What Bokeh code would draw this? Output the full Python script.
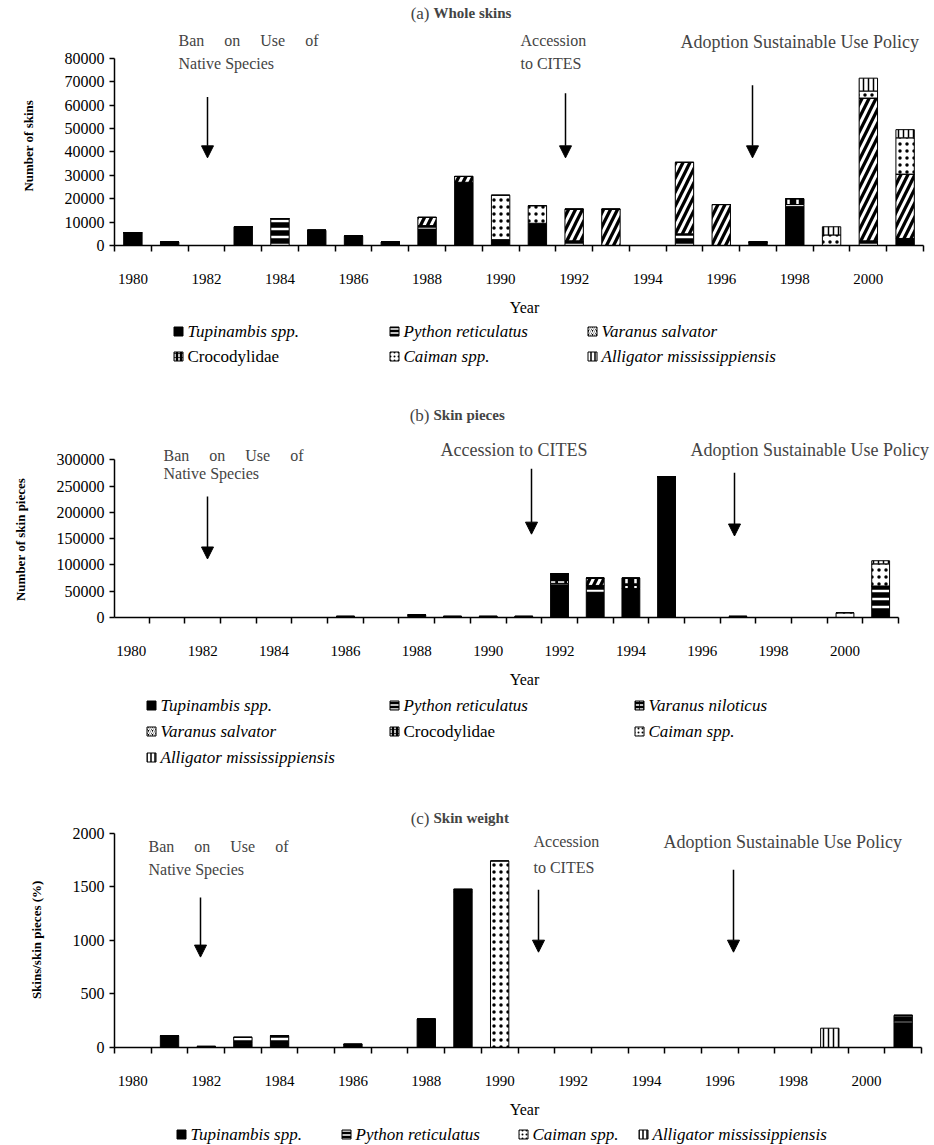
from bokeh.plotting import figure
from bokeh.models import (Range1d, FixedTicker, NumeralTickFormatter, Label, Arrow,
                          NormalHead, ColumnDataSource)
from bokeh.layouts import column
from bokeh.embed import file_html
from bokeh.resources import INLINE
from bokeh.core.properties import value

# ---------------- data ----------------
years = list(range(1980, 2002))
year_ticks = list(range(1980, 2001, 2))

# (a) Whole skins (number of skins)
a_names = ["Tupinambis spp.", "Python reticulatus", "Varanus salvator",
           "Crocodylidae", "Caiman spp.", "Alligator mississippiensis"]
a_tupinambis = [5500, 1500, 0, 8000, 0, 6500, 4000, 1500, 7000, 27000, 2500,
                9500, 0, 0, 0, 0, 0, 1500, 16500, 0, 0, 3000]
a_python = [0, 0, 0, 0, 11500, 0, 0, 0, 1500, 0, 0,
            0, 2000, 0, 0, 5000, 0, 0, 1000, 0, 2000, 0]
a_varanus_salvator = [0, 0, 0, 0, 0, 0, 0, 0, 3500, 2500, 0,
                      0, 13500, 15500, 0, 30500, 17500, 0, 0, 0, 61000, 27500]
a_crocodylidae = [0, 0, 0, 0, 0, 0, 0, 0, 0, 0, 0,
                  0, 0, 0, 0, 0, 0, 0, 2500, 0, 0, 0]
a_caiman = [0, 0, 0, 0, 0, 0, 0, 0, 0, 0, 19000,
            7500, 0, 0, 0, 0, 0, 0, 0, 4500, 3000, 15500]
a_alligator = [0, 0, 0, 0, 0, 0, 0, 0, 0, 0, 0,
               0, 0, 0, 0, 0, 0, 0, 0, 3500, 5500, 3500]

# (b) Skin pieces (number of skin pieces)
b_names = ["Tupinambis spp.", "Python reticulatus", "Varanus niloticus",
           "Varanus salvator", "Crocodylidae", "Caiman spp.", "Alligator mississippiensis"]
b_tupinambis = [0, 0, 0, 0, 0, 0, 2000, 0, 5000, 2000, 2000,
                2000, 60000, 48000, 55000, 268000, 0, 2000, 0, 0, 0, 15000]
b_python = [0, 0, 0, 0, 0, 0, 0, 0, 0, 0, 0,
            0, 5000, 13000, 0, 0, 0, 0, 0, 0, 0, 45000]
b_varanus_niloticus = [0, 0, 0, 0, 0, 0, 0, 0, 0, 0, 0,
                       0, 18000, 0, 0, 0, 0, 0, 0, 0, 0, 0]
b_varanus_salvator = [0, 0, 0, 0, 0, 0, 0, 0, 0, 0, 0,
                      0, 0, 14000, 0, 0, 0, 0, 0, 0, 0, 0]
b_crocodylidae = [0, 0, 0, 0, 0, 0, 0, 0, 0, 0, 0,
                  0, 0, 0, 20000, 0, 0, 0, 0, 0, 0, 0]
b_caiman = [0, 0, 0, 0, 0, 0, 0, 0, 0, 0, 0,
            0, 0, 0, 0, 0, 0, 0, 0, 0, 9000, 42000]
b_alligator = [0, 0, 0, 0, 0, 0, 0, 0, 0, 0, 0,
               0, 0, 0, 0, 0, 0, 0, 0, 0, 0, 6000]

# (c) Skin weight (skins/skin pieces, %)
c_names = ["Tupinambis spp.", "Python reticulatus", "Caiman spp.", "Alligator mississippiensis"]
c_tupinambis = [0, 110, 10, 40, 30, 0, 30, 0, 265, 1450, 0,
                0, 0, 0, 0, 0, 0, 0, 0, 0, 0, 230]
c_python = [0, 0, 0, 55, 80, 0, 0, 0, 0, 25, 0,
            0, 0, 0, 0, 0, 0, 0, 0, 0, 0, 70]
c_caiman = [0, 0, 0, 0, 0, 0, 0, 0, 0, 0, 1740,
            0, 0, 0, 0, 0, 0, 0, 0, 0, 0, 0]
c_alligator = [0, 0, 0, 0, 0, 0, 0, 0, 0, 0, 0,
               0, 0, 0, 0, 0, 0, 0, 0, 180, 0, 0]

# ---------------- styles ----------------
FONT = "Liberation Serif"
W = 934
LEFT = 114  # common left border (frames are aligned in the column)
STYLE = {
    "Tupinambis spp.": dict(fill="black", hatch=" ", hc="black", hs=6, hw=1),
    "Python reticulatus": dict(fill="black", hatch="-", hc="white", hs=8, hw=2.5),
    "Varanus niloticus": dict(fill="black", hatch='"', hc="white", hs=9, hw=2.5),
    "Varanus salvator": dict(fill="black", hatch="/", hc="white", hs=14, hw=3),
    "Crocodylidae": dict(fill="black", hatch=":", hc="white", hs=9, hw=2.5),
    "Caiman spp.": dict(fill="white", hatch=".", hc="black", hs=7, hw=1.5),
    "Alligator mississippiensis": dict(fill="white", hatch="|", hc="black", hs=5, hw=1.5),
}
NB = "\u00a0"


def panel(H, ft, fb, a0, a1, ymax, ystep, ylabel, ypad, names, series, tag, title, title_y,
          texts, arrows, lab_standoff, axlab_standoff):
    # frame spans from LEFT to the right edge and from the top of the canvas to the axis
    k = 22.0 / (a1 - a0)
    x0 = 1979.5 - (a0 - LEFT) * k
    x1 = 1979.5 + (W - a0) * k
    ytop = ymax * fb / (fb - ft)
    p = figure(width=W, height=H, x_range=Range1d(x0, x1), y_range=Range1d(0, ytop),
               min_border_top=0, min_border_bottom=H - fb, min_border_left=LEFT,
               min_border_right=0, output_backend="svg", toolbar_location=None)
    p.outline_line_color = None
    p.grid.visible = False
    fx = lambda xpx: 1979.5 + (xpx - a0) * k
    fy = lambda ypx: ymax * (fb - ypx) / (fb - ft)

    data = dict(year=years)
    for n, s in zip(names, series):
        data[n] = s
    src = ColumnDataSource(data)
    p.vbar_stack(names, x="year", width=0.5, source=src,
                 fill_color=[STYLE[n]["fill"] for n in names],
                 hatch_pattern=[STYLE[n]["hatch"] for n in names],
                 hatch_color=[STYLE[n]["hc"] for n in names],
                 hatch_scale=[STYLE[n]["hs"] for n in names],
                 hatch_weight=[STYLE[n]["hw"] for n in names],
                 line_color="black", line_width=1)

    xa = p.xaxis[0]
    xa.bounds = (1979.5, 2001.5)
    xa.ticker = FixedTicker(ticks=year_ticks, minor_ticks=[1979.5 + i for i in range(23)])
    xa.major_tick_out = 0
    xa.major_tick_in = 0
    xa.minor_tick_out = 6
    xa.minor_tick_in = 0
    xa.major_label_standoff = lab_standoff
    xa.axis_label = "Year"
    xa.axis_label_standoff = axlab_standoff
    xa.axis_label_text_font_style = "normal"
    xa.axis_label_text_font_size = "16px"
    xa.major_label_text_font_size = "15px"

    ya = p.yaxis[0]
    ya.bounds = (0, ymax)
    ya.ticker = FixedTicker(ticks=list(range(0, ymax + 1, ystep)), minor_ticks=[])
    ya.formatter = NumeralTickFormatter(format="0")
    ya.major_tick_out = 5
    ya.major_tick_in = 0
    ya.minor_tick_out = 0
    # trailing no-break spaces keep the rotated label centred on the bounded axis
    ya.axis_label = ylabel + NB * ypad
    ya.axis_label_standoff = 26
    ya.axis_label_text_font_style = "bold"
    ya.axis_label_text_font_size = "13px"
    ya.major_label_text_font_size = "16px"

    for ax in (xa, ya):
        ax.axis_line_color = "black"
        ax.axis_line_width = 1.5
        ax.major_tick_line_width = 1.5
        ax.minor_tick_line_width = 1.5
        ax.major_label_text_font = FONT
        ax.major_label_text_color = "black"
        ax.axis_label_text_font = FONT
        ax.axis_label_text_color = "black"

    # title
    p.add_layout(Label(x=fx(429), y=fy(title_y), text=tag, text_align="right",
                       text_baseline="middle", text_font=FONT, text_font_size="17px"))
    p.add_layout(Label(x=fx(433), y=fy(title_y), text=title, text_align="left",
                       text_baseline="middle", text_font=FONT, text_font_size="15px",
                       text_font_style="bold"))
    for (tx, ty, t, fs) in texts:
        p.add_layout(Label(x=fx(tx), y=ty, text=t, text_align="left", text_baseline="middle",
                           text_font=FONT, text_font_size=fs))
    for (axp, y0, y1) in arrows:
        p.add_layout(Arrow(end=NormalHead(size=12, fill_color="black", line_color="black"),
                           x_start=fx(axp), y_start=y0, x_end=fx(axp), y_end=y1,
                           line_width=1.5, line_color="black"))
    return p


def legend_fig(H, items):
    p = figure(width=W, height=H, x_range=Range1d(LEFT, W), y_range=Range1d(H, 0),
               x_axis_type=None, y_axis_type=None, min_border_left=LEFT, min_border_right=0,
               min_border_top=0, min_border_bottom=0,
               output_backend="svg", toolbar_location=None)
    p.outline_line_color = None
    for name, x, y in items:
        st = STYLE[name]
        p.rect(x=[x], y=[y], width=9, height=9, fill_color=st["fill"],
               hatch_pattern=st["hatch"], hatch_color=st["hc"], hatch_scale=4,
               hatch_weight=1.5, line_color="black", line_width=1)
    src = ColumnDataSource(dict(
        x=[it[1] + 9 for it in items], y=[it[2] for it in items],
        text=[it[0] for it in items],
        style=["normal" if it[0] == "Crocodylidae" else "italic" for it in items]))
    p.text(x="x", y="y", text="text", source=src, text_font=value(FONT),
           text_font_size="17px", text_font_style="style", text_baseline="middle",
           text_color="black")
    return p


BAN = (NB * 5).join(["Ban", "on", "Use", "of"])

# ---------------- panel (a) ----------------
pa = panel(H=318, ft=58, fb=246, a0=114, a1=923, ymax=80000, ystep=10000,
           ylabel="Number of skins", ypad=14, names=a_names,
           series=[a_tupinambis, a_python, a_varanus_salvator, a_crocodylidae, a_caiman, a_alligator],
           tag="(a)", title="Whole skins", title_y=13,
           texts=[(178, 87660, BAN, "16px"), (178, 77870, "Native Species", "16px"),
                  (520, 87660, "Accession", "16px"), (520, 77870, "to CITES", "16px"),
                  (680, 86800, "Adoption Sustainable Use Policy", "18px")],
           arrows=[(207, 63400, 37450), (565, 65100, 37450), (752, 68500, 37450)],
           lab_standoff=22, axlab_standoff=12)
la = legend_fig(52, [("Tupinambis spp.", 178, 13), ("Python reticulatus", 394, 13),
                     ("Varanus salvator", 592, 13), ("Crocodylidae", 178, 38),
                     ("Caiman spp.", 394, 38), ("Alligator mississippiensis", 592, 38)])

# ---------------- panel (b) ----------------
pb = panel(H=320, ft=90, fb=249, a0=113, a1=898, ymax=300000, ystep=50000,
           ylabel="Number of skin pieces", ypad=28, names=b_names,
           series=[b_tupinambis, b_python, b_varanus_niloticus, b_varanus_salvator,
                   b_crocodylidae, b_caiman, b_alligator],
           tag="(b)", title="Skin pieces", title_y=45,
           texts=[(163, 307500, BAN, "16px"), (163, 273600, "Native Species", "16px"),
                  (440, 318900, "Accession to CITES", "18px"),
                  (690, 318900, "Adoption Sustainable Use Policy", "18px")],
           arrows=[(207, 230000, 111300), (531, 283000, 158500), (734, 275500, 155000)],
           lab_standoff=22, axlab_standoff=12)
lb = legend_fig(80, [("Tupinambis spp.", 151, 15), ("Python reticulatus", 394, 15),
                     ("Varanus niloticus", 639, 15), ("Varanus salvator", 151, 41),
                     ("Crocodylidae", 394, 41), ("Caiman spp.", 639, 41),
                     ("Alligator mississippiensis", 151, 67)])

# ---------------- panel (c) ----------------
pc = panel(H=350, ft=63, fb=279, a0=114, a1=921, ymax=2000, ystep=500,
           ylabel="Skins/skin pieces (%)", ypad=19, names=c_names,
           series=[c_tupinambis, c_python, c_caiman, c_alligator],
           tag="(c)", title="Skin weight", title_y=48,
           texts=[(148, 1870, BAN, "16px"), (148, 1657, "Native Species", "16px"),
                  (533, 1917, "Accession", "16px"), (533, 1676, "to CITES", "16px"),
                  (663, 1917, "Adoption Sustainable Use Policy", "18px")],
           arrows=[(200, 1398, 843), (538, 1472, 889), (733, 1657, 889)],
           lab_standoff=22, axlab_standoff=12)
lc = legend_fig(25, [("Tupinambis spp.", 181, 14), ("Python reticulatus", 346, 14),
                     ("Caiman spp.", 523, 14), ("Alligator mississippiensis", 643, 14)])

layout = column(pa, la, pb, lb, pc, lc, spacing=0)
open("out.html", "w").write(file_html(layout, INLINE))
